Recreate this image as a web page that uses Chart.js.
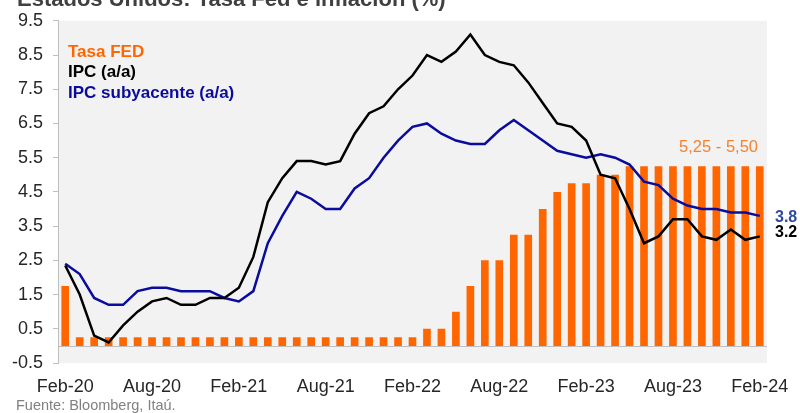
<!DOCTYPE html>
<html>
<head>
<meta charset="utf-8">
<script src="https://cdn.jsdelivr.net/npm/chart.js@4.4.1/dist/chart.umd.min.js"></script>
<style>
  body { margin: 0; background: #fff; }
  #wrap { width: 800px; height: 413px; position: relative; }
</style>
</head>
<body>
<div id="wrap"><canvas id="chart" width="800" height="413"></canvas></div>
<script>
const months = [
  'Feb-20','Mar-20','Apr-20','May-20','Jun-20','Jul-20','Aug-20','Sep-20','Oct-20','Nov-20','Dec-20','Jan-21',
  'Feb-21','Mar-21','Apr-21','May-21','Jun-21','Jul-21','Aug-21','Sep-21','Oct-21','Nov-21','Dec-21','Jan-22',
  'Feb-22','Mar-22','Apr-22','May-22','Jun-22','Jul-22','Aug-22','Sep-22','Oct-22','Nov-22','Dec-22','Jan-23',
  'Feb-23','Mar-23','Apr-23','May-23','Jun-23','Jul-23','Aug-23','Sep-23','Oct-23','Nov-23','Dec-23','Jan-24',
  'Feb-24'
];

// Tasa FED (%)
const fedRate = [
  1.75, 0.25, 0.25, 0.25, 0.25, 0.25, 0.25, 0.25, 0.25, 0.25, 0.25, 0.25,
  0.25, 0.25, 0.25, 0.25, 0.25, 0.25, 0.25, 0.25, 0.25, 0.25, 0.25, 0.25,
  0.25, 0.5, 0.5, 1.0, 1.75, 2.5, 2.5, 3.25, 3.25, 4.0, 4.5, 4.75,
  4.75, 5.0, 5.0, 5.25, 5.25, 5.25, 5.25, 5.25, 5.25, 5.25, 5.25, 5.25,
  5.25
];

// IPC (a/a)
const cpi = [
  2.35, 1.5, 0.3, 0.1, 0.6, 1.0, 1.3, 1.4, 1.2, 1.2, 1.4, 1.4,
  1.7, 2.6, 4.2, 4.9, 5.4, 5.4, 5.3, 5.4, 6.2, 6.8, 7.0, 7.5,
  7.9, 8.5, 8.3, 8.6, 9.1, 8.5, 8.3, 8.2, 7.7, 7.1, 6.5, 6.4,
  6.0, 5.0, 4.9, 4.0, 3.0, 3.2, 3.7, 3.7, 3.2, 3.1, 3.4, 3.1,
  3.2
];

// IPC subyacente (a/a)
const coreCpi = [
  2.4, 2.1, 1.4, 1.2, 1.2, 1.6, 1.7, 1.7, 1.6, 1.6, 1.6, 1.4,
  1.3, 1.6, 3.0, 3.8, 4.5, 4.3, 4.0, 4.0, 4.6, 4.9, 5.5, 6.0,
  6.4, 6.5, 6.2, 6.0, 5.9, 5.9, 6.3, 6.6, 6.3, 6.0, 5.7, 5.6,
  5.5, 5.6, 5.5, 5.3, 4.8, 4.7, 4.3, 4.1, 4.0, 4.0, 3.9, 3.9,
  3.8
];

const yTicks = [-0.5, 0.5, 1.5, 2.5, 3.5, 4.5, 5.5, 6.5, 7.5, 8.5, 9.5];

const FONT = "'Liberation Sans', Arial, sans-serif";
const ORANGE = '#FF6600';
const BLUE = '#0B0B9E';

const decor = {
  id: 'decor',
  beforeDraw(chart) {
    const { ctx, chartArea: a } = chart;
    ctx.save();
    ctx.fillStyle = '#F2F2F2';
    ctx.fillRect(a.left, a.top, a.right - a.left, a.bottom - a.top);
    ctx.restore();
  },
  beforeDatasetsDraw(chart) {
    const { ctx, chartArea: a, scales } = chart;
    const y0 = Math.round(scales.y.getPixelForValue(0)) + 0.5;
    ctx.save();
    ctx.strokeStyle = '#BFBFBF';
    ctx.lineWidth = 1;
    ctx.beginPath();
    ctx.moveTo(a.left, y0);
    ctx.lineTo(a.right, y0);
    ctx.stroke();
    ctx.restore();
  },
  afterDraw(chart) {
    const { ctx } = chart;
    const last = months.length - 1;
    ctx.save();
    ctx.textBaseline = 'alphabetic';
    // title (cut at the top)
    ctx.font = 'bold 22px ' + FONT;
    ctx.fillStyle = '#404040';
    ctx.textAlign = 'left';
    ctx.fillText('Estados Unidos: Tasa Fed e inflación (%)', 17, 5.5);

    // legend inside plot
    ctx.font = 'bold 17px ' + FONT;
    ctx.fillStyle = ORANGE;
    ctx.fillText('Tasa FED', 68, 57);
    ctx.fillStyle = '#000000';
    ctx.fillText('IPC (a/a)', 68, 77);
    ctx.fillStyle = BLUE;
    ctx.fillText('IPC subyacente (a/a)', 68, 98);

    // range label
    ctx.font = '16.5px ' + FONT;
    ctx.fillStyle = '#F58230';
    ctx.textAlign = 'right';
    ctx.fillText('5,25 - 5,50', 758, 152);

    // end labels
    ctx.textAlign = 'left';
    ctx.font = 'bold 16px ' + FONT;
    ctx.fillStyle = '#2F4B9C';
    ctx.fillText(coreCpi[last].toFixed(1), 775, 222);
    ctx.fillStyle = '#000000';
    ctx.fillText(cpi[last].toFixed(1), 775, 237);

    // source
    ctx.font = '14.5px ' + FONT;
    ctx.fillStyle = '#808080';
    ctx.fillText('Fuente: Bloomberg, Itaú.', 16, 410);
    ctx.restore();
  }
};

new Chart(document.getElementById('chart'), {
  type: 'bar',
  data: {
    labels: months,
    datasets: [
      {
        type: 'line',
        label: 'IPC (a/a)',
        data: cpi,
        borderColor: '#000000',
        borderWidth: 2.5,
        pointRadius: 0,
        tension: 0,
        order: 0
      },
      {
        type: 'line',
        label: 'IPC subyacente (a/a)',
        data: coreCpi,
        borderColor: BLUE,
        borderWidth: 2.5,
        pointRadius: 0,
        tension: 0,
        order: 1
      },
      {
        type: 'bar',
        label: 'Tasa FED',
        data: fedRate,
        backgroundColor: ORANGE,
        barPercentage: 0.53,
        categoryPercentage: 1,
        order: 2
      }
    ]
  },
  options: {
    responsive: false,
    animation: false,
    devicePixelRatio: 1,
    layout: { padding: { top: 19, right: 33, left: 0, bottom: 0 } },
    plugins: {
      legend: { display: false },
      tooltip: { enabled: false },
      title: { display: false }
    },
    scales: {
      x: {
        type: 'category',
        offset: true,
        grid: { display: false },
        border: { display: false },
        ticks: {
          autoSkip: false,
          maxRotation: 0,
          minRotation: 0,
          padding: 5,
          color: '#262626',
          font: { family: FONT, size: 18 },
          callback: (v, i) => (i % 6 === 0 ? months[i] : '')
        },
        afterFit: (s) => { s.height = 50; }
      },
      y: {
        min: -0.5,
        max: 9.5,
        afterBuildTicks: (s) => { s.ticks = yTicks.map(v => ({ value: v })); },
        grid: { drawOnChartArea: false, drawTicks: true, tickLength: 5, color: '#BFBFBF' },
        border: { display: true, color: '#BFBFBF' },
        ticks: {
          padding: 10,
          color: '#262626',
          font: { family: FONT, size: 18 },
          callback: (v) => Number(v).toFixed(1)
        },
        afterFit: (s) => { s.width = 58; }
      }
    }
  },
  plugins: [decor]
});
</script>
</body>
</html>
